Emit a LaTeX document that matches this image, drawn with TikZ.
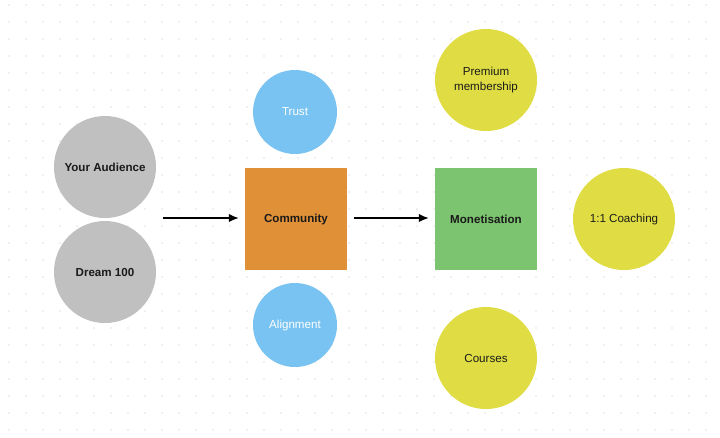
\documentclass[tikz,border=0pt]{standalone}
\usepackage{fontspec}
\setmainfont{Liberation Sans}
\usetikzlibrary{arrows.meta}
\definecolor{cgray}{HTML}{C0C0C0}
\definecolor{corange}{HTML}{E09036}
\definecolor{cgreen}{HTML}{7CC46F}
\definecolor{cblue}{HTML}{78C3F1}
\definecolor{cyellow}{HTML}{DFDD43}
\definecolor{cdot}{HTML}{C0C0C0}
\definecolor{ctext}{HTML}{1A1A1A}
\newcommand{\dfont}{\fontsize{11.6}{14.5}\selectfont}
\begin{document}
\begin{tikzpicture}[x=1pt,y=-1pt,
  big/.style={circle,minimum size=102pt,inner sep=0pt,align=center,font=\dfont,text=ctext},
  small/.style={circle,minimum size=84pt,inner sep=0pt,fill=cblue,text=white,font=\dfont},
  sq/.style={rectangle,minimum size=102pt,inner sep=0pt,font=\dfont\bfseries,text=ctext},
  arr/.style={-{Latex[length=10pt,width=8.5pt]},line width=1.5pt,black}]
\useasboundingbox (0,0) rectangle (720,437);
\fill[white] (0,0) rectangle (720,437);
\foreach \i in {0,...,41}{\foreach \j in {0,...,25}{\fill[cdot] (9+17*\i,5+17*\j) circle (0.7pt);}}
\node[big,fill=cgray,font=\dfont\bfseries] (aud) at (105,167) {Your Audience};
\node[big,fill=cgray,font=\dfont\bfseries] (dream) at (105,272) {Dream 100};
\node[sq,fill=corange] (comm) at (296,219) {Community};
\node[sq,fill=cgreen] (mon) at (486,219) {Monetisation};
\node[small] (trust) at (295,112) {Trust};
\node[small] (align) at (295,325) {Alignment};
\node[big,fill=cyellow] (prem) at (486,80) {Premium\\membership};
\node[big,fill=cyellow] (coach) at (624,219) {1:1 Coaching};
\node[big,fill=cyellow] (courses) at (486,358) {Courses};
\coordinate (a1s) at (163,218);
\draw[arr] (a1s) -- ([xshift=-6pt]comm.west |- a1s);
\draw[arr] ([xshift=7pt]comm.east |- a1s) -- ([xshift=-6pt]mon.west |- a1s);
\end{tikzpicture}
\end{document}
